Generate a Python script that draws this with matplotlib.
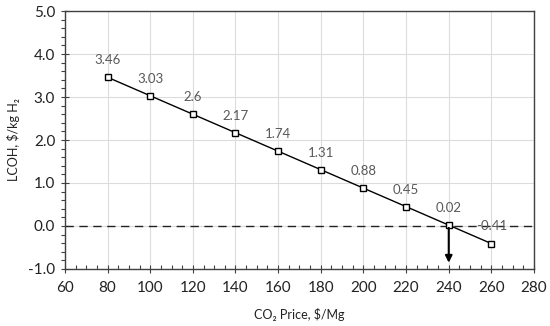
import matplotlib
matplotlib.use('Agg')
import matplotlib.pyplot as plt
from matplotlib.ticker import MultipleLocator

plt.rcParams['font.family'] = ['Lato', 'DejaVu Sans']

co2Price = [80, 100, 120, 140, 160, 180, 200, 220, 240, 260]
lcoh = [3.46, 3.03, 2.6, 2.17, 1.74, 1.31, 0.88, 0.45, 0.02, -0.41]
labels = ['3.46', '3.03', '2.6', '2.17', '1.74', '1.31', '0.88', '0.45', '0.02', '-0.41']

fig = plt.figure(figsize=(5.5, 3.26), dpi=100)
ax = fig.add_axes([0.118, 0.175, 0.853, 0.791])

ax.grid(True, which='major', color='#dcdcdc', linewidth=0.8, zorder=0)
ax.axhline(0, color='#222222', linestyle=(0, (6, 4)), linewidth=1, zorder=2)

ax.plot(co2Price, lcoh, color='black', linewidth=1, marker='s', markersize=5,
        markerfacecolor='white', markeredgecolor='black', markeredgewidth=1, zorder=3)

for xv, yv, lab in zip(co2Price, lcoh, labels):
    ax.annotate(lab, (xv, yv), xytext=(0, 8), textcoords='offset points',
                ha='center', va='bottom', fontsize=9.5, color='#595959', zorder=4)

# arrow down from the break-even point
ax.annotate('', xy=(240, -0.92), xytext=(240, 0.02),
            arrowprops=dict(arrowstyle='-|>', color='black', lw=1.5, mutation_scale=10),
            zorder=5)

ax.set_xlim(60, 280)
ax.set_ylim(-1, 5)
ax.xaxis.set_major_locator(MultipleLocator(20))
ax.xaxis.set_minor_locator(MultipleLocator(5))
ax.yaxis.set_major_locator(MultipleLocator(1))
ax.yaxis.set_minor_locator(MultipleLocator(0.2))
ax.yaxis.set_major_formatter(matplotlib.ticker.FormatStrFormatter('%.1f'))

for s in ax.spines.values():
    s.set_color('#404040')
    s.set_linewidth(1)
ax.tick_params(which='major', direction='inout', length=6, width=0.8, color='#404040',
               labelsize=11, labelcolor='#222222', pad=4)
ax.tick_params(axis='x', which='major', pad=6)
ax.tick_params(which='minor', direction='out', length=3, width=0.8, color='#404040')
ax.tick_params(axis='x', which='minor', direction='in')

ax.set_xlabel('CO\u2082 Price, $/Mg', fontsize=9, color='#222222', labelpad=9)
ax.set_ylabel('LCOH, $/kg H\u2082', fontsize=9, color='#222222', labelpad=6)

fig.savefig('out.png', dpi=100)
